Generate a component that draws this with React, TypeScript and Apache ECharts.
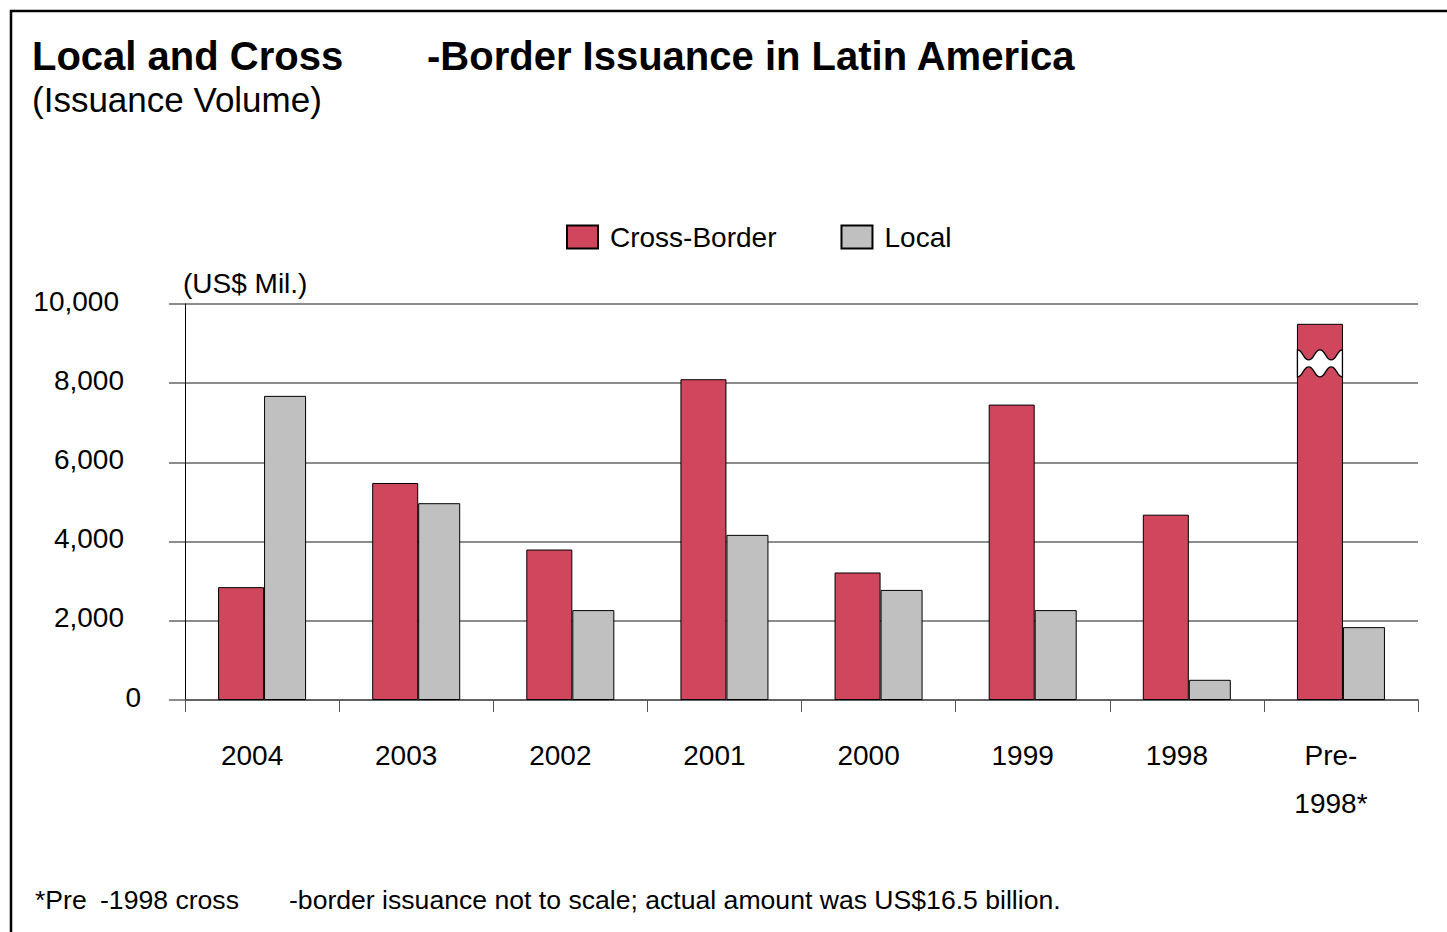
import React, { useEffect, useRef } from "react";
import * as echarts from "echarts";

// ---- data ----
const categories = ["2004", "2003", "2002", "2001", "2000", "1999", "1998", "Pre-\n1998*"];
const crossBorder = [2850, 5480, 3800, 8100, 3220, 7460, 4680, 9500];
const local = [7680, 4970, 2270, 4170, 2780, 2270, 510, 1840];
const yMin = 0;
const yMax = 10000;
const yInterval = 2000;
// axis break marker on the Pre-1998 cross-border bar: [category index, value at centre]
const breakMarks = [[7, 8500]];

const titleMain1 = "Local and Cross";
const titleMain2 = "-Border Issuance in Latin America";
const subTitle = "(Issuance Volume)";
const unitLabel = "(US$ Mil.)";
const foot1 = "*Pre";
const foot2 = "-1998 cross";
const foot3 = "-border issuance not to scale; actual amount was US$16.5 billion.";

const NARROW = "'Liberation Sans', Arial, sans-serif";
const NFS = 28;
const REGULAR = "'Liberation Sans', Arial, Helvetica, sans-serif";
const RED = "#D0465D";
const GRAY = "#C0C0C0";
const RED_W = 46;
const GRAY_W = 42;

function fmt(v: number): string {
  return String(v).replace(/\B(?=(\d{3})+(?!\d))/g, ",");
}

export default function App() {
  const ref = useRef<HTMLDivElement>(null);
  useEffect(() => {
    if (!ref.current) return;
    const chart = echarts.init(ref.current, null, { renderer: "svg" });
    const labelRich = {
      z: { fontFamily: NARROW, fontSize: NFS, color: "#000", padding: [0, 0, 6, 0] },
      n: { fontFamily: NARROW, fontSize: NFS, color: "#000", padding: [0, 17, 6, 0] },
      t: { fontFamily: NARROW, fontSize: NFS, color: "#000", padding: [0, 22, 6, 0] },
    };
    const option: any = {
      animation: false,
      backgroundColor: "#fff",
      title: [
        { text: titleMain1, left: 32, top: 36, padding: 0, textStyle: { fontFamily: REGULAR, fontWeight: "bold", fontSize: 40, color: "#000" } },
        { text: titleMain2, left: 427, top: 36, padding: 0, textStyle: { fontFamily: REGULAR, fontWeight: "bold", fontSize: 40, color: "#000" } },
        { text: subTitle, left: 32, top: 82, padding: 0, textStyle: { fontFamily: REGULAR, fontWeight: "normal", fontSize: 35, color: "#000" } },
        { text: foot1, left: 35, top: 886, padding: 0, textStyle: { fontFamily: REGULAR, fontWeight: "normal", fontSize: 26.6, color: "#000" } },
        { text: foot2, left: 100, top: 886, padding: 0, textStyle: { fontFamily: REGULAR, fontWeight: "normal", fontSize: 26.6, color: "#000" } },
        { text: foot3, left: 289, top: 886, padding: 0, textStyle: { fontFamily: REGULAR, fontWeight: "normal", fontSize: 26.6, color: "#000" } },
      ],
      legend: {
        data: ["Cross-Border", "Local"],
        left: 566,
        top: 223,
        padding: 0,
        itemWidth: 31,
        itemHeight: 23,
        itemGap: 64,
        icon: "rect",
        textStyle: { fontFamily: NARROW, fontSize: NFS, color: "#000", padding: [0, 0, 0, 7] },
      },
      grid: { left: 185, right: 29, top: 304, bottom: 232, containLabel: false },
      xAxis: {
        type: "category",
        data: categories,
        boundaryGap: true,
        axisLine: { show: true, lineStyle: { color: "#555", width: 1.5 } },
        axisTick: { show: true, length: 12, interval: 0, lineStyle: { color: "#555", width: 1 } },
        axisLabel: {
          interval: 0,
          margin: 31,
          fontFamily: NARROW,
          fontSize: NFS,
          lineHeight: 48,
          color: "#000",
          padding: [0, 20, 0, 0],
        },
        splitLine: { show: false },
      },
      yAxis: {
        type: "value",
        min: yMin,
        max: yMax,
        interval: yInterval,
        name: unitLabel,
        nameLocation: "end",
        nameGap: 21,
        nameTextStyle: { fontFamily: NARROW, fontSize: NFS, color: "#000", align: "left", verticalAlign: "middle", padding: [0, 0, 0, -2] },
        axisLine: { show: true, lineStyle: { color: "#000", width: 1 } },
        axisTick: { show: true, inside: false, length: 16, lineStyle: { color: "#666", width: 1.5 } },
        axisLabel: {
          margin: 44,
          formatter: (v: number) => {
            const s = fmt(v);
            if (v === 0) return `{z|${s}}`;
            if (v === 10000) return `{t|${s}}`;
            return `{n|${s}}`;
          },
          rich: labelRich,
          fontFamily: NARROW,
          fontSize: NFS,
          color: "#000",
        },
        splitLine: { show: true, lineStyle: { color: "#666", width: 1.5 } },
      },
      series: [
        {
          name: "Cross-Border",
          type: "bar",
          data: crossBorder,
          barWidth: RED_W,
          barGap: "0%",
          itemStyle: { color: RED, borderColor: "#000", borderWidth: 1 },
        },
        {
          name: "Local",
          type: "bar",
          data: local,
          barWidth: GRAY_W,
          barGap: "0%",
          itemStyle: { color: GRAY, borderColor: "#000", borderWidth: 1 },
        },
        {
          name: "break",
          type: "custom",
          coordinateSystem: "cartesian2d",
          data: breakMarks,
          encode: { x: 0, y: 1 },
          z: 5,
          silent: true,
          renderItem: (params: any, api: any) => {
            const c = api.coord([api.value(0), api.value(1)]);
            const L = c[0] - (RED_W + GRAY_W) / 2 + 0.5;
            const w = RED_W - 1;
            const y0 = c[1];
            const h = 13.5;
            const p = 3.5;
            const q = w / 4;
            const X = (k: number) => (L + k * q).toFixed(2);
            const T = (y: number) => y.toFixed(2);
            const d =
              `M ${X(0)} ${T(y0 - h)} ` +
              `C ${X(0.5)} ${T(y0 - h)} ${X(0.5)} ${T(y0 - p)} ${X(1)} ${T(y0 - p)} ` +
              `C ${X(1.5)} ${T(y0 - p)} ${X(1.5)} ${T(y0 - h)} ${X(2)} ${T(y0 - h)} ` +
              `C ${X(2.5)} ${T(y0 - h)} ${X(2.5)} ${T(y0 - p)} ${X(3)} ${T(y0 - p)} ` +
              `C ${X(3.5)} ${T(y0 - p)} ${X(3.5)} ${T(y0 - h)} ${X(4)} ${T(y0 - h)} ` +
              `L ${X(4)} ${T(y0 + h)} ` +
              `C ${X(3.5)} ${T(y0 + h)} ${X(3.5)} ${T(y0 + p)} ${X(3)} ${T(y0 + p)} ` +
              `C ${X(2.5)} ${T(y0 + p)} ${X(2.5)} ${T(y0 + h)} ${X(2)} ${T(y0 + h)} ` +
              `C ${X(1.5)} ${T(y0 + h)} ${X(1.5)} ${T(y0 + p)} ${X(1)} ${T(y0 + p)} ` +
              `C ${X(0.5)} ${T(y0 + p)} ${X(0.5)} ${T(y0 + h)} ${X(0)} ${T(y0 + h)} Z`;
            return {
              type: "path",
              shape: { pathData: d },
              style: { fill: "#fff", stroke: "#000", lineWidth: 1.3 },
            };
          },
        },
      ],
      graphic: [
        {
          type: "rect",
          shape: { x: 11, y: 11, width: 1460, height: 960 },
          style: { fill: "none", stroke: "#000", lineWidth: 2.5 },
          silent: true,
          z: 100,
        },
      ],
    };
    chart.setOption(option);
    return () => chart.dispose();
  }, []);
  return (
    <div
      ref={ref}
      style={{ position: "absolute", left: 0, top: 0, width: 1447, height: 932, background: "#fff" }}
    />
  );
}
